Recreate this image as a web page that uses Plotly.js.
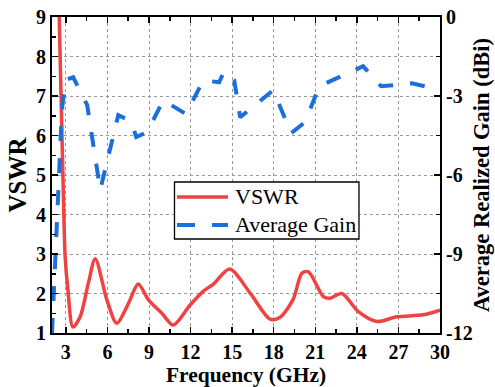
<!DOCTYPE html>
<html>
<head>
<meta charset="utf-8">
<script src="https://cdn.plot.ly/plotly-3.0.1.min.js"></script>
<style>html,body{margin:0;padding:0;background:#fff}#chart{width:495px;height:387px}</style>
</head>
<body>
<div id="chart"></div>
<script>
// VSWR curve (frequency in GHz)
var vswrFreq = [2.52, 2.66, 2.83, 2.95, 3.15, 3.51, 4.03, 4.63, 5.12, 5.96, 6.67, 7.52, 8.22, 8.96, 9.93, 10.75, 11.97, 12.93, 13.65, 14.82, 16.30, 17.74, 18.46, 19.4, 20.03, 20.51, 21.59, 22.07, 22.92, 24.11, 25.44, 26.88, 28.80, 30.0];
var vswrVals = [9.0, 6.9, 4.36, 2.92, 2.09, 1.15, 1.41, 2.27, 2.88, 1.84, 1.25, 1.75, 2.24, 1.84, 1.50, 1.20, 1.71, 2.06, 2.24, 2.62, 2.01, 1.35, 1.40, 1.85, 2.51, 2.55, 1.92, 1.88, 2.00, 1.54, 1.29, 1.41, 1.46, 1.58];
// Average realized gain (dBi)
var gainFreq = [2.0, 2.72, 2.96, 3.53, 4.54, 5.48, 6.78, 7.71, 8.08, 8.87, 10.03, 11.68, 12.91, 14.06, 14.42, 15.15, 15.58, 17.96, 19.26, 20.27, 21.28, 23.30, 24.45, 25.75, 27.98, 30.0];
var gainVals = [-12.0, -3.5, -2.40, -2.29, -3.35, -6.57, -3.73, -3.96, -4.56, -4.37, -3.16, -3.69, -2.40, -2.48, -2.06, -2.40, -3.81, -2.78, -4.41, -3.99, -2.63, -2.14, -1.87, -2.63, -2.52, -2.76];
// Series names and colours
var seriesNames = ['VSWR', 'Average Gain'];
var seriesColors = ['#F04242', '#1B6FDC'];
var gainDash = '15px,17px';
// Tick labels
var xTickVals = [3, 6, 9, 12, 15, 18, 21, 24, 27, 30];
var xTickText = ['3', '6', '9', '12', '15', '18', '21', '24', '27', '30'];
var yTickVals = [1, 2, 3, 4, 5, 6, 7, 8, 9];
var yTickText = ['1', '2', '3', '4', '5', '6', '7', '8', '9'];
var y2TickVals = [-12, -9, -6, -3, 0];
var y2TickText = ['-12', '-9', '-6', '-3', '0'];

var serif = 'Liberation Serif, Times New Roman, serif';
var traces = [
  {x: vswrFreq, y: vswrVals, name: seriesNames[0], type: 'scatter', mode: 'lines', showlegend: false,
   line: {color: seriesColors[0], width: 3.5, shape: 'spline', smoothing: 0.8}, yaxis: 'y'},
  {x: gainFreq, y: gainVals, name: seriesNames[1], type: 'scatter', mode: 'lines', showlegend: false,
   line: {color: seriesColors[1], width: 4, dash: gainDash}, yaxis: 'y2'}
];
var axisCommon = {
  showline: true, linecolor: '#000', linewidth: 2,
  ticks: 'inside', ticklen: 6, tickwidth: 1.5, tickcolor: '#000',
  tickfont: {family: serif, size: 20, color: '#000', weight: 'bold'},
  zeroline: false
};
// legend box (paper coordinates of the plot area)
var lg = {x0: 0.3157, x1: 0.7912, y0: 0.2975, y1: 0.4778, rows: [0.4304, 0.3418], lx0: 0.3222, lx1: 0.4536, tx: 0.4665};
var shapes = [
  {type: 'rect', xref: 'paper', yref: 'paper', x0: lg.x0, x1: lg.x1, y0: lg.y0, y1: lg.y1,
   fillcolor: '#fff', line: {color: '#000', width: 1.3}, layer: 'above'},
  {type: 'line', xref: 'paper', yref: 'paper', x0: lg.lx0, x1: lg.lx1, y0: lg.rows[0], y1: lg.rows[0],
   line: {color: seriesColors[0], width: 3.5}, layer: 'above'},
  {type: 'line', xref: 'paper', yref: 'paper', x0: lg.lx0, x1: lg.lx1, y0: lg.rows[1], y1: lg.rows[1],
   line: {color: seriesColors[1], width: 4, dash: '18px,17px'}, layer: 'above'}
];
var annotations = seriesNames.map(function (n, i) {
  return {xref: 'paper', yref: 'paper', x: lg.tx, y: lg.rows[i], xanchor: 'left', yanchor: 'middle',
    text: n, showarrow: false, font: {family: serif, size: 22, color: '#000'}};
});
var layout = {
  width: 495, height: 387,
  margin: {l: 52, r: 55, t: 17, b: 54},
  paper_bgcolor: '#fff', plot_bgcolor: '#fff',
  showlegend: false,
  shapes: shapes, annotations: annotations,
  xaxis: Object.assign({}, axisCommon, {
    range: [2, 30], tickmode: 'array', tickvals: xTickVals, ticktext: xTickText,
    mirror: 'ticks', showgrid: true, gridcolor: '#999', griddash: 'dot', gridwidth: 1,
    minor: {dtick: 1.5, tick0: 0, ticks: 'inside', ticklen: 4, tickwidth: 1.5, tickcolor: '#000', showgrid: false},
    title: {text: 'Frequency (GHz)', font: {family: serif, size: 21.5, color: '#000', weight: 'bold'}, standoff: 1}
  }),
  yaxis: Object.assign({}, axisCommon, {
    range: [1, 9], tickmode: 'array', tickvals: yTickVals, ticktext: yTickText,
    showgrid: true, gridcolor: '#999', griddash: 'dot', gridwidth: 1,
    minor: {dtick: 0.5, tick0: 0, ticks: 'inside', ticklen: 4, tickwidth: 1.5, tickcolor: '#000', showgrid: false},
    title: {text: 'VSWR', font: {family: serif, size: 25, color: '#000', weight: 'bold'}, standoff: 2}
  }),
  yaxis2: Object.assign({}, axisCommon, {
    range: [-12, 0], overlaying: 'y', side: 'right', tickmode: 'array', tickvals: y2TickVals, ticktext: y2TickText,
    showgrid: false,
    minor: {dtick: 1.5, tick0: 0, ticks: 'inside', ticklen: 4, tickwidth: 1.5, tickcolor: '#000', showgrid: false},
    title: {text: 'Average Realized Gain (dBi)', font: {family: serif, size: 22.5, color: '#000', weight: 'bold'}, standoff: 2}
  })
};
Plotly.newPlot('chart', traces, layout, {displayModeBar: false, staticPlot: true});
</script>
</body>
</html>
